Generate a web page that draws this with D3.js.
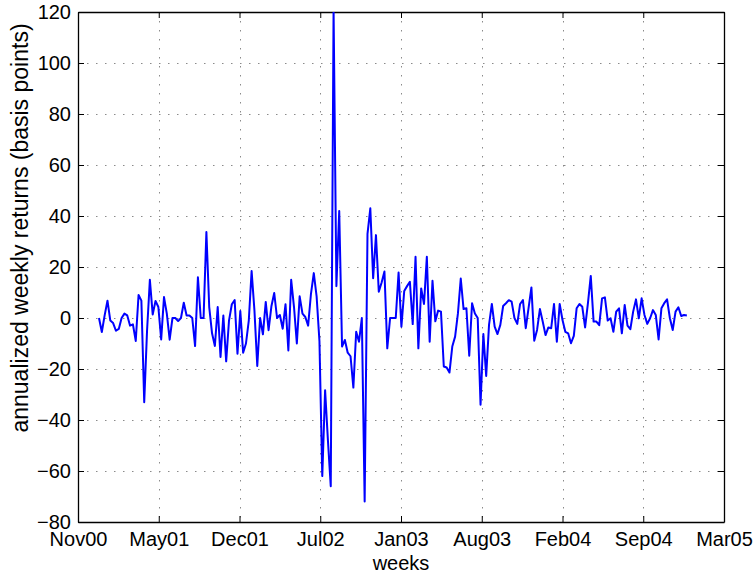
<!DOCTYPE html>
<html>
<head>
<meta charset="utf-8">
<script src="https://cdn.jsdelivr.net/npm/d3@7"></script>
<style>
  body { margin: 0; background: #fff; }
  svg text { font-family: "Liberation Sans", Arial, Helvetica, sans-serif; fill: #000; }
</style>
</head>
<body>
<svg id="svg0"></svg>
<script>
// weekly series, one value per week starting at firstWeek
var firstWeek = "2001-01-01";
var weekValues = [
  0, -5.5, 1, 6.8, -1, -2, -5, -4.3, 0, 1.7,
  1, -3, -2.5, -9, 9, 6.8, -33, -5, 15, 1.4,
  6.7, 4.3, -8.4, 8.2, 1.7, -8.5, 0, 0, -1.2, 0,
  6, 1, 1, 0, -11, 16, 0, 0, 33.7, 4.3,
  -6, -11, 4.3, -15.3, 1, -17, -1, 5.4, 7, -14,
  2.7, -13.6, -10, -1, 18.4, 3, -18.8, 0, -6.4, 6.3,
  -4.8, 4.6, 9.8, 0, 1.2, -4.2, 5.4, -12.7, 15, 4.3,
  -10, 8.5, 1.7, 0.4, -3, 9.5, 17.6, 8.5, -9, -62,
  -28.3, -48, -66, 121, 12.5, 42, -11.2, -8.6, -13.6, -15,
  -27.3, -5.4, -9.3, 0, -72, 33, 43, 15.6, 32.5, 10.3,
  13.9, 18.2, -11.9, 0, 0, 0, 17.8, -3.4, 10.6, 12.5,
  14.2, -2.4, 24, -11.9, 11.6, 5.5, 24, -9.3, 14.6, -1.3,
  2.9, 2.5, -19, -19.4, -21.4, -11.2, -7.3, 1.8, 15.5, 3.5,
  3.8, -14.8, 5.8, 1.8, 0, -34, -6.3, -22.7, -2.7, 5.5,
  -3.4, -6.3, -2.7, 4.7, 5.8, 7, 6.4, 0, -2.3, 5.5,
  7, -4, 4, 12, -8.9, -4.7, 3.5, -1.4, -6.7, -3.7,
  -4, 5.5, -9.3, 5.5, -0.8, -5.4, -6, -9.9, -7, 3.8,
  5.5, 4.4, -3.7, 5.8, 16.5, -1.4, -1.4, -2.8, 7.7, 8.1,
  -1, -0.1, -5.4, 2.5, 3.8, -6, 5.1, -3, -4.4, 2.5,
  7.3, -0.1, 7.7, 1.2, -2.3, -0.1, 3.1, 1.2, -8.4, 3.8,
  5.8, 7.3, -0.1, -4.7, 2.5, 4.2, 0.8, 1.2, 1.0
];

var tickDates = ["2000-11-10", "2001-05-29", "2001-12-15", "2002-07-03", "2003-01-19",
                 "2003-08-07", "2004-02-23", "2004-09-10", "2005-03-29"];
var tickLabels = ["Nov00", "May01", "Dec01", "Jul02", "Jan03", "Aug03", "Feb04", "Sep04", "Mar05"];
var yTicks = [-80, -60, -40, -20, 0, 20, 40, 60, 80, 100, 120];

var parseDate = d3.utcParse("%Y-%m-%d");

var line_chart_svg = function () {
    var margin = { top: 12, bottom: 51, left: 78, right: 31 };
    var width = 755 - margin.left - margin.right,
        height = 573 - margin.top - margin.bottom;

    var start = parseDate(firstWeek);
    var data = weekValues.map(function (v, i) {
        return { date: d3.utcDay.offset(start, 7 * i), value: v };
    });
    var ticks = tickDates.map(parseDate);

    var svg = d3.select('#svg0')
                .attr("width", width + margin.left + margin.right)
                .attr("height", height + margin.top + margin.bottom)
                .append("g")
                .attr("transform", "translate(" + margin.left + "," + margin.top + ")");

    var x = d3.scaleUtc()
              .domain([ticks[0], ticks[ticks.length - 1]])
              .range([0, width]);

    var y = d3.scaleLinear()
              .domain([-80, 120])
              .range([height, 0]);

    // dotted grid
    svg.append("g")
       .selectAll("line")
       .data(ticks.slice(1, -1))
       .enter()
       .append("line")
       .attr("x1", function (d) { return Math.round(x(d)) + 0.5; })
       .attr("x2", function (d) { return Math.round(x(d)) + 0.5; })
       .attr("y1", 0)
       .attr("y2", height)
       .attr("stroke", "#8a8a8a")
       .attr("stroke-dasharray", "1.5,7.5");

    svg.append("g")
       .selectAll("line")
       .data(yTicks.slice(1, -1))
       .enter()
       .append("line")
       .attr("x1", 0)
       .attr("x2", width)
       .attr("y1", function (d) { return Math.round(y(d)) + 0.5; })
       .attr("y2", function (d) { return Math.round(y(d)) + 0.5; })
       .attr("stroke", "#8a8a8a")
       .attr("stroke-dasharray", "1.5,7.5");

    // axes, ticks pointing inward on all four sides
    var xAxis = d3.axisBottom(x)
                  .tickValues(ticks)
                  .tickSizeInner(-6)
                  .tickSizeOuter(0)
                  .tickPadding(10)
                  .tickFormat(function (d, i) { return tickLabels[i]; });
    var gx = svg.append("g")
       .attr("transform", "translate(0," + height + ")")
       .call(xAxis);
    gx.selectAll("text").style("font-size", "20px");

    var yAxis = d3.axisLeft(y)
                  .tickValues(yTicks)
                  .tickSizeInner(-6)
                  .tickSizeOuter(0)
                  .tickPadding(7)
                  .tickFormat(function (d) { return d < 0 ? "\u2212" + Math.abs(d) : d; });
    var gy = svg.append("g").call(yAxis);
    gy.selectAll("text").style("font-size", "20px");

    svg.append("g")
       .call(d3.axisTop(x).tickValues(ticks).tickSizeInner(-6).tickSizeOuter(0).tickFormat(""));
    svg.append("g")
       .attr("transform", "translate(" + width + ",0)")
       .call(d3.axisRight(y).tickValues(yTicks).tickSizeInner(-6).tickSizeOuter(0).tickFormat(""));

    svg.selectAll(".domain").attr("stroke", "#000").attr("stroke-width", 1.3);
    svg.selectAll(".tick line").attr("stroke", "#000");

    // series
    svg.append("clipPath")
       .attr("id", "plotClip")
       .append("rect")
       .attr("width", width)
       .attr("height", height);

    var valueLine = d3.line()
                      .x(function (d) { return x(d.date); })
                      .y(function (d) { return y(d.value); });

    svg.append("path")
       .datum(data)
       .attr("clip-path", "url(#plotClip)")
       .attr("fill", "none")
       .attr("stroke", "#0000ff")
       .attr("stroke-width", 2)
       .attr("stroke-linejoin", "round")
       .attr("d", valueLine);

    svg.append("text")
       .attr("x", width / 2)
       .attr("y", height + 47.5)
       .attr("text-anchor", "middle")
       .style("font-size", "20px")
       .text("weeks");

    svg.append("text")
       .attr("transform", "rotate(-90)")
       .attr("x", -216)
       .attr("y", -50)
       .attr("text-anchor", "middle")
       .style("font-size", "23px")
       .text("annualized weekly returns (basis points)");
};

line_chart_svg();
</script>
</body>
</html>
